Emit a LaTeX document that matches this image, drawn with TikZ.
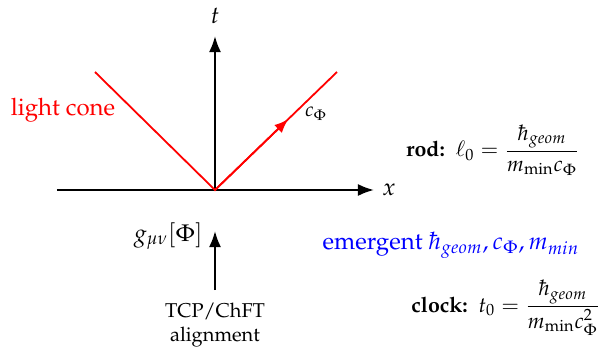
\documentclass[tikz,border=0pt]{standalone}
\usepackage{amsmath}
\usepackage[T1]{fontenc}
\usepackage{mathpazo}
\usetikzlibrary{calc,arrows.meta}
\begin{document}
\begin{tikzpicture}[x=0.5pt,y=-0.5pt,
  axis/.style={line width=1.1pt,-{Latex[length=8pt,width=6pt]}},
  cone/.style={red,line width=0.9pt},
  lbl/.style={inner sep=1pt}]
\useasboundingbox (0,0) rectangle (602,349);
\coordinate (O) at (215,190);
\coordinate (T) at (215,36);
\coordinate (X) at (374,190);
\coordinate (XL) at (57,190);
\coordinate (L) at (95,72);
\coordinate (R) at (337,72);
\coordinate (B) at (215,290);
\coordinate (G) at (215,231);
% axes
\draw[axis] (XL) -- (X);
\draw[axis] (O) -- (T);
\node[lbl,font=\large] (tl) at (215,16) {$t$};
\node[lbl,font=\large] (xl) at (389,190) {$x$};
% light cone
\draw[cone] (L) -- (O) -- (R);
\draw[cone,-{Latex[length=7pt,width=5.5pt]}] (O) -- ($(O)!0.6!(R)$);
\node[lbl,red,font=\large] (lc) at (63,110) {light cone};
\node[lbl] (cp) at (316,114) {$c_\Phi$};
% bottom arrow
\draw[axis] (B) -- (G);
\node[lbl,anchor=east,font=\large] (gl) at (205,236) {$g_{\mu\nu}[\Phi]$};
\node[lbl,align=center] (tcp) at (215,325) {TCP/ChFT\\alignment};
% right texts
\node[lbl,scale=1.07] (rod) at (493,150) {\textbf{rod:}\ \ $\ell_0=\dfrac{\hbar_{geom}}{m_{\min}c_\Phi}$};
\node[lbl,blue,font=\large] (em) at (451,245) {emergent $\hbar_{geom}, c_\Phi, m_{min}$};
\node[lbl,scale=1.07] (clk) at (506,308) {\textbf{clock:}\ \ $t_0=\dfrac{\hbar_{geom}}{m_{\min}c_\Phi^2}$};
\end{tikzpicture}
\end{document}
